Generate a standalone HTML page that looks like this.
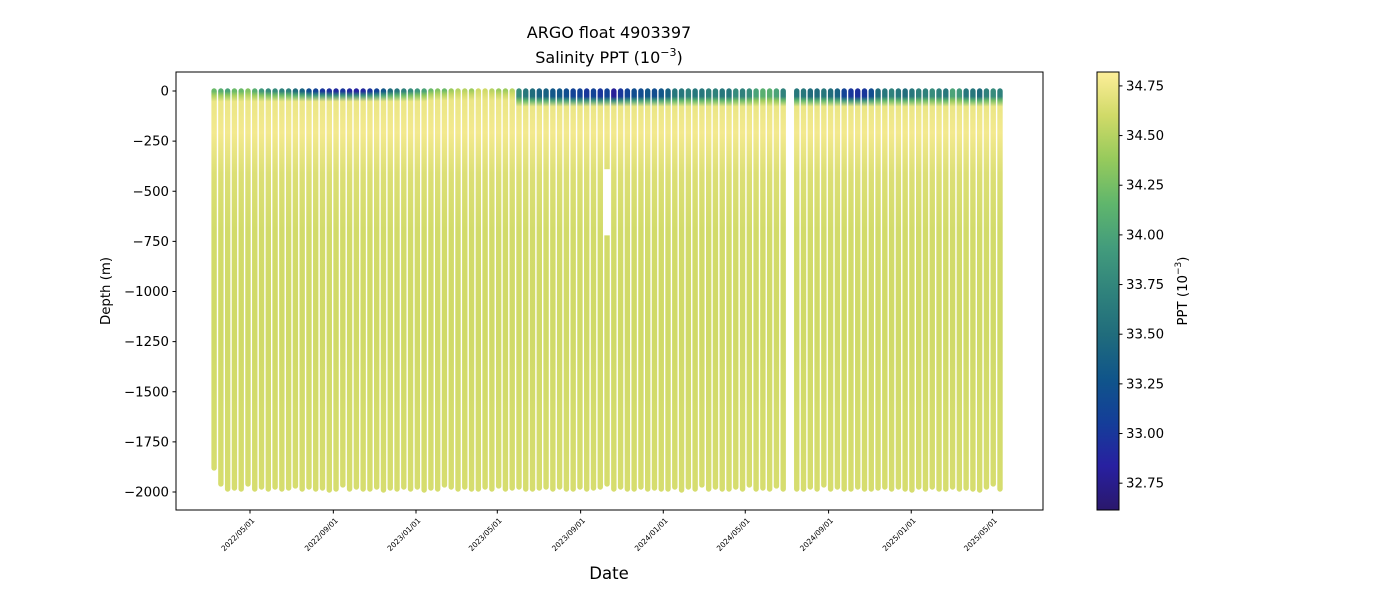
<!DOCTYPE html>
<html><head><meta charset="utf-8"><style>
html,body{margin:0;padding:0;background:#fff;}
svg{display:block;font-family:"DejaVu Sans","Liberation Sans",sans-serif;}
</style></head><body>
<svg id="chart" width="1400" height="600" viewBox="0 0 1400 600" xmlns="http://www.w3.org/2000/svg">
<defs id="defs"></defs>
<text x="609" y="38" font-size="16" text-anchor="middle">ARGO float 4903397</text>
<text x="609" y="63" font-size="16" text-anchor="middle">Salinity PPT (10<tspan font-size="11" dy="-7">−3</tspan><tspan dy="7">)</tspan></text>
<g id="plot"></g>
<rect x="176" y="72" width="867" height="438" fill="none" stroke="#000" stroke-width="1"/>
<g id="yaxis"></g>
<g id="xaxis"></g>
<text transform="translate(110,291) rotate(-90)" font-size="13.3" text-anchor="middle">Depth (m)</text>
<text x="609" y="579" font-size="16.5" text-anchor="middle">Date</text>
<g id="cbar"></g>
<text transform="translate(1187,291) rotate(-90)" font-size="13.3" text-anchor="middle">PPT (10<tspan font-size="9" dy="-6">−3</tspan><tspan dy="6">)</tspan></text>
</svg>
<script>
// ---- data ----
const profileDays = [0,10,20,30,40,50,60,70,80,90,100,110,120,130,140,150,160,170,180,190,200,210,220,230,240,250,260,270,280,290,300,310,320,330,340,350,360,370,380,390,400,410,420,430,440,450,460,470,480,490,500,510,520,530,540,550,560,570,580,590,600,610,620,630,640,650,660,670,680,690,700,710,720,730,740,750,760,770,780,790,800,810,820,830,840,860,870,880,890,900,910,920,930,940,950,960,970,980,990,1000,1010,1020,1030,1040,1050,1060,1070,1080,1090,1100,1110,1120,1130,1140,1150,1160];
const surfaceSalinity = [34.2,34.1,34.0,34.2,34.2,34.3,34.1,33.9,33.8,33.8,33.7,33.7,33.5,33.4,33.2,33.1,33.0,32.95,32.9,33.0,32.9,32.85,32.9,33.0,33.1,33.3,33.5,33.6,33.7,33.8,33.9,34.0,34.2,34.3,34.2,34.4,34.5,34.5,34.4,34.6,34.6,34.5,34.4,34.4,34.5,33.8,33.6,33.5,33.4,33.4,33.3,33.3,33.2,33.1,33.1,33.0,33.1,33.0,33.1,32.8,33.0,33.1,33.2,33.2,33.3,33.2,33.3,33.4,33.6,33.6,33.7,33.6,33.6,33.7,33.7,33.6,33.6,33.8,33.7,33.8,34.0,34.1,34.1,34.0,33.7,33.6,33.6,33.5,33.5,33.6,33.5,33.4,33.1,33.0,32.95,33.0,33.2,33.5,33.6,33.7,33.6,33.5,33.6,33.7,33.7,33.8,33.7,33.6,34.0,33.9,33.6,33.6,33.5,33.7,33.8,33.7];
const mixedLayerDepth = [15,15,15,15,15,15,15,15,15,15,15,15,15,15,15,15,15,15,15,15,15,15,15,15,15,15,15,15,15,15,15,15,10,10,10,10,10,10,10,10,10,10,10,10,10,40,40,40,40,40,40,40,40,40,40,40,40,40,40,40,40,40,40,40,40,40,40,40,40,40,40,40,40,40,40,40,40,40,40,40,40,40,40,40,40,40,40,40,40,40,40,40,40,40,40,40,40,40,40,40,40,40,40,40,40,40,40,40,40,40,40,40,40,40,40,40];
const maxDepth = [1880,1960,1985,1980,1985,1960,1985,1975,1985,1975,1985,1980,1970,1985,1975,1985,1980,1990,1985,1965,1985,1975,1985,1985,1975,1990,1980,1985,1975,1985,1975,1990,1980,1985,1965,1975,1985,1975,1985,1985,1975,1985,1970,1985,1980,1975,1985,1985,1980,1975,1985,1975,1985,1985,1975,1985,1980,1975,1960,1985,1975,1985,1985,1975,1985,1980,1985,1985,1975,1990,1975,1985,1965,1985,1975,1985,1985,1975,1985,1965,1985,1980,1985,1970,1985,1985,1985,1975,1985,1965,1985,1975,1985,1985,1975,1985,1985,1980,1975,1985,1975,1985,1990,1975,1985,1975,1985,1985,1975,1985,1980,1985,1990,1975,1960,1985];
const dataGaps = [[58,390,720]];
const yTicks = [0,-250,-500,-750,-1000,-1250,-1500,-1750,-2000];
const xTickLabels = ["2022/05/01","2022/09/01","2023/01/01","2023/05/01","2023/09/01","2024/01/01","2024/05/01","2024/09/01","2025/01/01","2025/05/01"];
const cbarTicks = [32.75,33.00,33.25,33.50,33.75,34.00,34.25,34.50,34.75];
// ---- scales ----
const NS="http://www.w3.org/2000/svg";
const X0=214.1, PXD=0.6775;
function dayOf(s){const p=s.split('/');return (Date.UTC(+p[0],+p[1]-1,+p[2])-Date.UTC(2022,2,9))/86400000;}
function xScale(day){return X0+day*PXD;}
function yScale(depth){return 91+depth*0.2005;}
const VMIN=32.615, VMAX=34.82;
const cmap=[[0,[42,24,108]],[0.1,[40,32,160]],[0.2,[20,62,153]],[0.3,[16,85,138]],[0.4,[32,108,124]],[0.5,[48,131,124]],[0.6,[67,156,124]],[0.7,[96,182,108]],[0.8,[150,202,92]],[0.9,[208,218,104]],[1,[253,238,153]]];
function color(v){let t=(v-VMIN)/(VMAX-VMIN);t=Math.max(0,Math.min(1,t));
 for(let i=1;i<cmap.length;i++){if(t<=cmap[i][0]){const a=cmap[i-1],b=cmap[i];const f=(t-a[0])/(b[0]-a[0]);
 return 'rgb('+a[1].map((c,k)=>Math.round(c+(b[1][k]-c)*f)).join(',')+')';}}return 'rgb(253,238,153)';}
function mk(tag,attrs,parent){const e=document.createElementNS(NS,tag);for(const k in attrs)e.setAttribute(k,attrs[k]);parent.appendChild(e);return e;}
const defs=document.getElementById('defs'), plot=document.getElementById('plot');
const W=5.4;
profileDays.forEach((d,i)=>{
 const md=maxDepth[i], mld=mixedLayerDepth[i], s=surfaceSalinity[i];
 const gid='g'+i;
 const g=mk('linearGradient',{id:gid,x1:0,y1:0,x2:0,y2:1},defs);
 const stops=[[0,s],[mld,s],[mld+20,(s+34.72)/2],[mld+50,34.73],[220,34.77],[420,34.66],[700,34.61],[1200,34.6],[md,34.63]];
 stops.forEach(st=>{mk('stop',{offset:Math.min(1,st[0]/md),'stop-color':color(st[1])},g);});
 const x=xScale(d);
 const top=yScale(0)-W/2, bot=yScale(md)+W/2;
 const r=mk('rect',{x:x-W/2,y:top,width:W,height:bot-top,rx:W/2,fill:'url(#'+gid+')'},plot);
 
 
});
dataGaps.forEach(gp=>{
 const x=xScale(profileDays[gp[0]]);
 const r=mk('rect',{x:x-W/2-0.5,y:yScale(gp[1]),width:W+1,height:yScale(gp[2])-yScale(gp[1]),fill:'#fff'},plot);
 
 
});
const ya=document.getElementById('yaxis');
yTicks.forEach(v=>{const y=yScale(-v);
 const l=mk('line',{x1:172.5,x2:176,y1:y,y2:y,stroke:'#000'},ya);
 
 
 const t=mk('text',{x:169,y:y+4.5,'font-size':13.3,'text-anchor':'end'},ya);
 t.textContent=(v<0?'−':'')+Math.abs(v);
 
 
});
const xa=document.getElementById('xaxis');
xTickLabels.forEach(s=>{const x=xScale(dayOf(s));
 const l=mk('line',{x1:x,x2:x,y1:510,y2:513.5,stroke:'#000'},xa);
 
 
 const t=mk('text',{transform:'translate('+(x+5)+',521) rotate(-45)','font-size':7.5,'text-anchor':'end'},xa);
 t.textContent=s;
 
 
});
const cb=document.getElementById('cbar');
const cg=mk('linearGradient',{id:'cbg',x1:0,y1:1,x2:0,y2:0},defs);
cmap.forEach(c=>mk('stop',{offset:c[0],'stop-color':'rgb('+c[1].join(',')+')'},cg));
const cr=mk('rect',{x:1097,y:72,width:22,height:438,fill:'url(#cbg)',stroke:'#000','stroke-width':1},cb);


cbarTicks.forEach(v=>{const y=510-(v-VMIN)/(VMAX-VMIN)*438;
 const l=mk('line',{x1:1119,x2:1122.5,y1:y,y2:y,stroke:'#000'},cb);
 
 
 const t=mk('text',{x:1126,y:y+4.5,'font-size':13.3},cb);
 t.textContent=v.toFixed(2);
 
 
});
</script>
</body></html>
